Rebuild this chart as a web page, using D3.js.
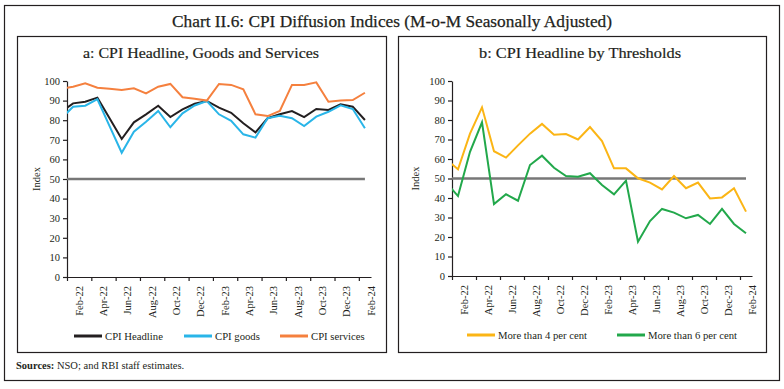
<!DOCTYPE html>
<html><head><meta charset="utf-8">
<script src="https://cdn.jsdelivr.net/npm/d3@7"></script>
<style>
body{margin:0;background:#fff}
svg{display:block}
text{font-family:"Liberation Serif","Times New Roman",serif;fill:#231f20}
</style>
</head><body>
<svg id="c" width="784" height="389"></svg>
<script>
// Months (Jan-22 is the clipped lead-in point left of the axis)
const months = ["Jan-22","Feb-22","Mar-22","Apr-22","May-22","Jun-22","Jul-22","Aug-22","Sep-22","Oct-22","Nov-22","Dec-22",
  "Jan-23","Feb-23","Mar-23","Apr-23","May-23","Jun-23","Jul-23","Aug-23","Sep-23","Oct-23","Nov-23","Dec-23","Jan-24","Feb-24"];
const tickLabels = ["Feb-22","Apr-22","Jun-22","Aug-22","Oct-22","Dec-22","Feb-23","Apr-23","Jun-23","Aug-23","Oct-23","Dec-23","Feb-24"];
const yTicks = [0,10,20,30,40,50,60,70,80,90,100];

// Panel a
const cpiHeadline = [84.2,88.6,89.4,91.5,81,70.4,78.9,83,87.4,81.6,85.5,88.4,89.8,86.4,83.8,78.4,73.8,81,83,84.7,81.6,85.7,85.2,88.1,86.9,80.1];
const cpiGoods    = [80.7,86.9,87.4,90.7,77,63.4,74.1,79.2,84.7,76.4,83.5,87.5,89.8,83,79.7,72.8,71.1,81,82.3,81,77,81.8,84.3,87.6,85.7,75.9];
const cpiServices = [96.1,97.1,98.8,96.6,96,95.4,96.3,93.7,97.1,98.5,91.7,91,90,98.5,98,95.8,83,82.1,84.7,98,98,99.3,89.4,90,90.3,94];
// Panel b
const moreThan4 = [59.9,54.7,73,86.5,64,60.7,67,73,78,72.5,72.8,70,76.4,69.2,55.2,55.2,50.1,47.9,44.4,51.3,45,47.9,39.8,40.3,45,33];
const moreThan6 = [48,41,63.7,78.8,36.9,41.9,38.6,56.9,61.7,55.5,51.3,50.9,52.7,46.7,41.9,48.9,17.6,28.2,34.4,32.5,29.6,31.3,26.7,34.4,26.7,21.9];
const thresholdValue = 50;

const svg = d3.select("#c");
const ink = "#231f20";

// frames
svg.append("rect").attr("x",4.5).attr("y",5.5).attr("width",775).attr("height",375)
  .attr("fill","none").attr("stroke",ink).attr("stroke-width",1.2);
svg.append("rect").attr("x",17.5).attr("y",36.5).attr("width",369).attr("height",316)
  .attr("fill","none").attr("stroke",ink).attr("stroke-width",1.2);
svg.append("rect").attr("x",398.5).attr("y",36.5).attr("width",368).attr("height",316)
  .attr("fill","none").attr("stroke",ink).attr("stroke-width",1.2);

svg.append("text").attr("x",392).attr("y",27).attr("text-anchor","middle")
  .attr("font-size",17).attr("textLength",440).attr("lengthAdjust","spacingAndGlyphs")
  .attr("stroke",ink).attr("stroke-width",0.25)
  .text("Chart II.6: CPI Diffusion Indices (M-o-M Seasonally Adjusted)");

const src = svg.append("text").attr("x",16).attr("y",369).attr("font-size",10.5);
src.append("tspan").attr("font-weight","bold").text("Sources:");
src.append("tspan").text(" NSO; and RBI staff estimates.");

function panel(cfg){
  const g = svg.append("g");
  const x = d3.scaleLinear().domain([0.5, months.length - 0.5]).range([cfg.x0, cfg.x1]);
  const y = d3.scaleLinear().domain([0,100]).range([cfg.y0, cfg.y100]);

  g.append("text").attr("x",cfg.titleX).attr("y",cfg.titleY).attr("text-anchor","middle")
    .attr("font-size",15).attr("textLength",cfg.titleW).attr("lengthAdjust","spacingAndGlyphs")
    .attr("stroke",ink).attr("stroke-width",0.2)
    .text(cfg.title);

  const clipId = "clip" + cfg.id;
  svg.append("clipPath").attr("id",clipId).append("rect")
    .attr("x",cfg.x0).attr("y",cfg.y100-20).attr("width",cfg.x1-cfg.x0).attr("height",cfg.y0-cfg.y100+40);

  // y axis
  const ya = d3.axisLeft(y).tickValues(yTicks).tickSize(4).tickSizeOuter(0).tickPadding(3);
  const yg = g.append("g").attr("transform",`translate(${cfg.x0},0)`).call(ya);
  yg.selectAll("path,line").attr("stroke",ink).attr("stroke-width",1.2);
  yg.selectAll("text").attr("font-size",10.5).attr("font-family","Liberation Serif").attr("fill",ink);

  // x axis
  const tv = tickLabels.map((d,i)=>months.indexOf(d) - 0.5);
  const xa = d3.axisBottom(x).tickValues(tv).tickFormat("").tickSize(4).tickSizeOuter(0);
  const xg = g.append("g").attr("transform",`translate(0,${cfg.y0})`).call(xa);
  xg.selectAll("path,line").attr("stroke",ink).attr("stroke-width",1.2);
  g.selectAll(".xl").data(tickLabels).join("text").attr("class","xl")
    .attr("transform",d=>`translate(${x(months.indexOf(d)+0.5)},${cfg.y0+9}) rotate(-90)`)
    .attr("text-anchor","end").attr("dy","0.35em").attr("font-size",10.5).text(d=>d);

  g.append("text").attr("transform",`translate(${cfg.indexX},${(y(0)+y(100))/2}) rotate(-90)`)
    .attr("text-anchor","middle").attr("dy","0.35em").attr("font-size",10.5).text("Index");

  const line = d3.line().x((d,i)=>x(i)).y(d=>y(d));
  const lg = g.append("g").attr("clip-path",`url(#${clipId})`);
  lg.append("path").datum(months.map(()=>thresholdValue)).attr("d",line)
    .attr("fill","none").attr("stroke","#777777").attr("stroke-width",2.6);
  cfg.series.forEach(s=>{
    lg.append("path").datum(s.values).attr("d",line).attr("fill","none")
      .attr("stroke",s.color).attr("stroke-width",2).attr("stroke-linejoin","miter");
  });

  // legend
  cfg.series.forEach(s=>{
    g.append("line").attr("x1",s.lx).attr("x2",s.lx+28).attr("y1",cfg.legY).attr("y2",cfg.legY)
      .attr("stroke",s.color).attr("stroke-width",3);
    g.append("text").attr("x",s.lx+31).attr("y",cfg.legY).attr("dy","0.35em")
      .attr("font-size",10.7).text(s.name);
  });
}

panel({id:"a", title:"a: CPI Headline, Goods and Services", titleX:201, titleY:58, titleW:236,
  x0:67, x1:371, y0:277, y100:81, indexX:36, legY:336,
  series:[
    {name:"CPI Headline", values:cpiHeadline, color:"#231f20", lx:74},
    {name:"CPI goods", values:cpiGoods, color:"#29b5e8", lx:184},
    {name:"CPI services", values:cpiServices, color:"#f5803e", lx:280}
  ]});

panel({id:"b", title:"b: CPI Headline by Thresholds", titleX:580, titleY:58, titleW:202,
  x0:452, x1:752, y0:276, y100:81, indexX:415, legY:335,
  series:[
    {name:"More than 4 per cent", values:moreThan4, color:"#fbb515", lx:467},
    {name:"More than 6 per cent", values:moreThan6, color:"#22a84b", lx:617}
  ]});
</script>
</body></html>
